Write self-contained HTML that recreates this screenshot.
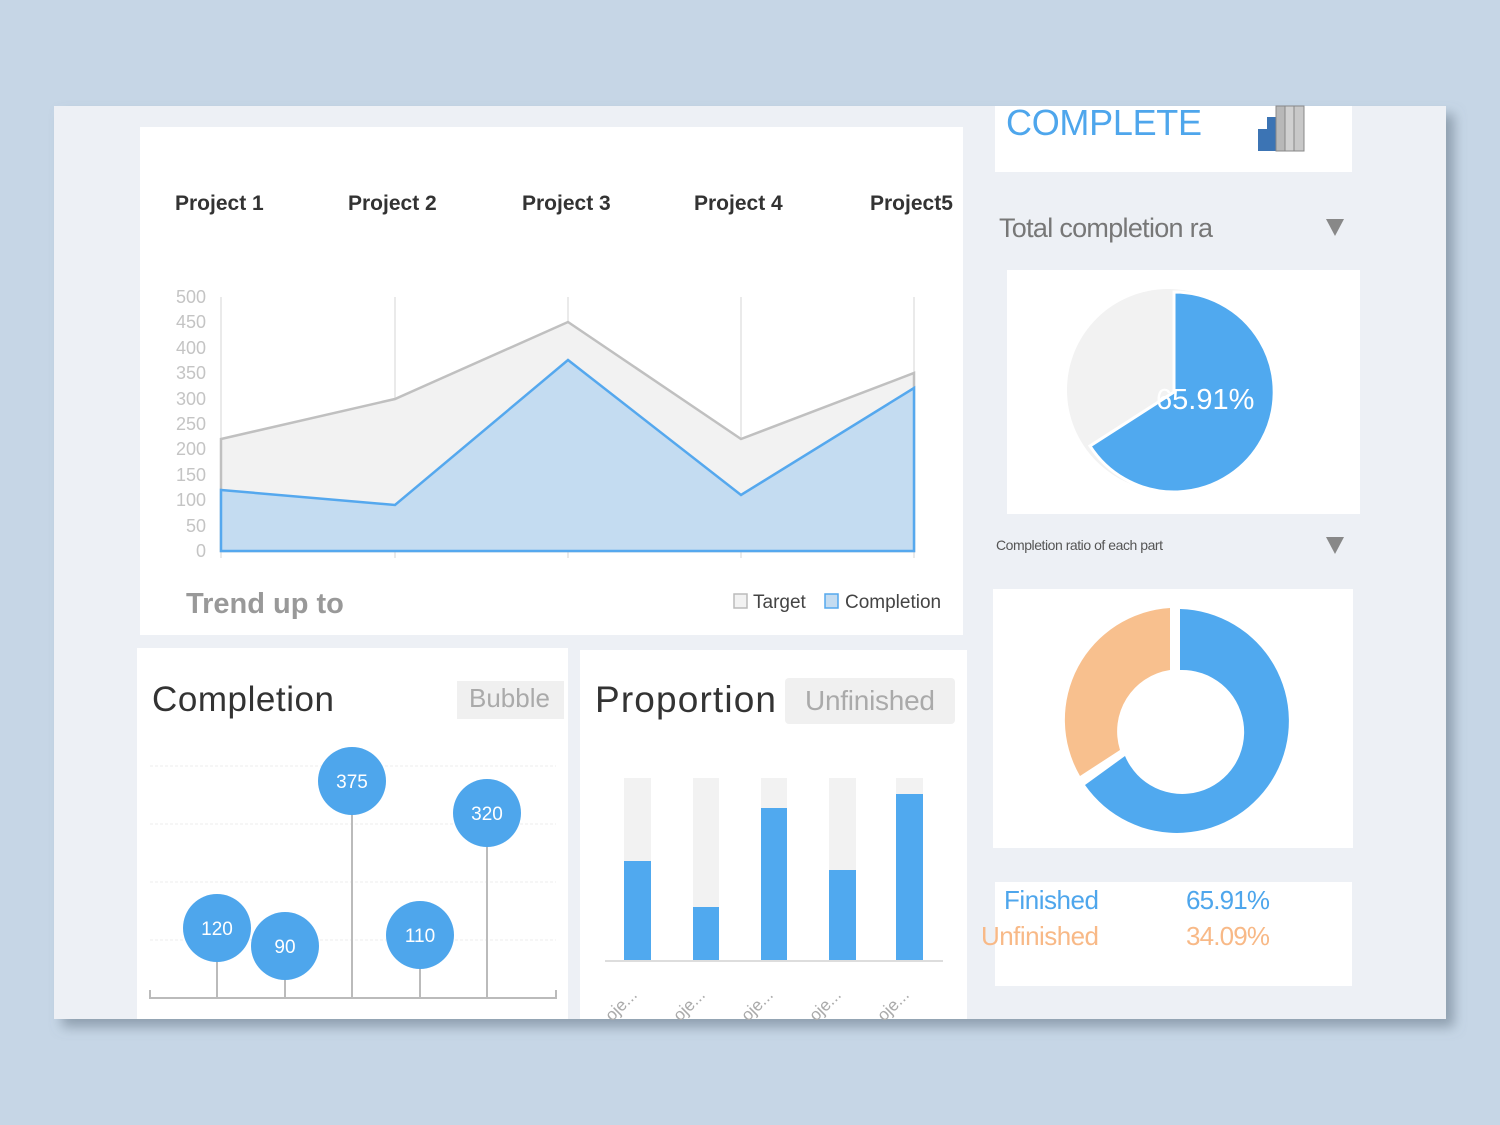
<!DOCTYPE html>
<html><head><meta charset="utf-8"><style>
html,body{margin:0;padding:0;background:#c6d6e6;}
svg{display:block;font-family:"Liberation Sans",sans-serif;}
</style></head><body>
<svg width="1500" height="1125" viewBox="0 0 1500 1125" xmlns="http://www.w3.org/2000/svg">
<defs><filter id="sh" x="-5%" y="-5%" width="115%" height="115%"><feDropShadow dx="8" dy="8" stdDeviation="6" flood-color="#6a7a8a" flood-opacity="0.6"/></filter></defs>
<rect width="1500" height="1125" fill="#c6d6e6"/>
<rect x="54" y="106" width="1392" height="913" fill="#edf0f5" filter="url(#sh)"/>
<rect x="140" y="127" width="823" height="508" fill="#fff"/>
<g font-weight="bold" font-size="21" fill="#333">
<text x="175" y="210">Project 1</text><text x="348" y="210">Project 2</text><text x="522" y="210">Project 3</text><text x="694" y="210">Project 4</text><text x="870" y="210">Project5</text>
</g>
<g font-size="18" fill="#c4c4c4" text-anchor="end">
<text x="206" y="303">500</text><text x="206" y="328">450</text><text x="206" y="354">400</text><text x="206" y="379">350</text><text x="206" y="405">300</text><text x="206" y="430">250</text><text x="206" y="455">200</text><text x="206" y="481">150</text><text x="206" y="506">100</text><text x="206" y="532">50</text><text x="206" y="557">0</text>
</g>
<g stroke="#e4e4e4" stroke-width="1.5">
<line x1="221" y1="297" x2="221" y2="558"/><line x1="395" y1="297" x2="395" y2="558"/><line x1="568" y1="297" x2="568" y2="558"/><line x1="741" y1="297" x2="741" y2="558"/><line x1="914" y1="297" x2="914" y2="558"/>
</g>
<polygon points="221,551 221,439 395,399 568,322 741,439 914,373 914,551" fill="#f2f2f2" stroke="#c0c0c0" stroke-width="2.5"/>
<polygon points="221,551 221,490 395,505 568,360 741,495 914,388 914,551" fill="#c4dcf1" stroke="#55a8ee" stroke-width="2.5"/>
<text x="186" y="613" font-size="29" font-weight="bold" fill="#999">Trend up to</text>
<rect x="734" y="594" width="13" height="14" fill="#f2f2f2" stroke="#bbb" stroke-width="1.5"/>
<text x="753" y="608" font-size="19" fill="#444">Target</text>
<rect x="825" y="594" width="13" height="14" fill="#c4dcf1" stroke="#55a8ee" stroke-width="1.5"/>
<text x="845" y="608" font-size="19" fill="#444">Completion</text>
<rect x="137" y="648" width="431" height="371" fill="#fff"/>
<text x="152" y="711" font-size="35" fill="#333" textLength="182">Completion</text>
<rect x="457" y="681" width="107" height="38" fill="#f0f0f0"/>
<text x="469" y="707" font-size="26" fill="#aaa">Bubble</text>
<g stroke="#eee" stroke-dasharray="3,2"><line x1="150" y1="766" x2="556" y2="766"/><line x1="150" y1="824" x2="556" y2="824"/><line x1="150" y1="882" x2="556" y2="882"/><line x1="150" y1="940" x2="556" y2="940"/></g>
<g stroke="#bbb" stroke-width="2" fill="none">
<polyline points="150,990 150,998 556,998 556,990"/>
<line x1="217" y1="928" x2="217" y2="998"/><line x1="285" y1="946" x2="285" y2="998"/><line x1="352" y1="781" x2="352" y2="998"/><line x1="420" y1="935" x2="420" y2="998"/><line x1="487" y1="813" x2="487" y2="998"/>
</g>
<g fill="#4ea6ec"><circle cx="217" cy="928" r="34"/><circle cx="285" cy="946" r="34"/><circle cx="352" cy="781" r="34"/><circle cx="420" cy="935" r="34"/><circle cx="487" cy="813" r="34"/></g>
<g font-size="19" fill="#fff" text-anchor="middle"><text x="217" y="935">120</text><text x="285" y="953">90</text><text x="352" y="788">375</text><text x="420" y="942">110</text><text x="487" y="820">320</text></g>
<rect x="580" y="650" width="387" height="369" fill="#fff"/>
<text x="595" y="712" font-size="37" fill="#333" textLength="181">Proportion</text>
<rect x="785" y="678" width="170" height="46" rx="4" fill="#f0f0f0"/>
<text x="805" y="710" font-size="28" fill="#aaa" textLength="130">Unfinished</text>
<g fill="#f2f2f2"><rect x="624" y="778" width="27" height="182"/><rect x="693" y="778" width="26" height="182"/><rect x="761" y="778" width="26" height="182"/><rect x="829" y="778" width="27" height="182"/><rect x="896" y="778" width="27" height="182"/></g>
<g fill="#50a9ef"><rect x="624" y="861" width="27" height="99"/><rect x="693" y="907" width="26" height="53"/><rect x="761" y="808" width="26" height="152"/><rect x="829" y="870" width="27" height="90"/><rect x="896" y="794" width="27" height="166"/></g>
<line x1="605" y1="961" x2="943" y2="961" stroke="#ddd" stroke-width="2"/>
<g font-size="17" fill="#aaa">
<text transform="translate(612,1022) rotate(-45)">oje...</text><text transform="translate(680,1022) rotate(-45)">oje...</text><text transform="translate(748,1022) rotate(-45)">oje...</text><text transform="translate(816,1022) rotate(-45)">oje...</text><text transform="translate(884,1022) rotate(-45)">oje...</text>
</g>
<rect x="995" y="106" width="357" height="66" fill="#fff"/>
<text x="1006" y="135" font-size="36" fill="#4ea6ec" textLength="196">COMPLETE</text>
<rect x="1258" y="129" width="9" height="22" fill="#3c74b4"/>
<rect x="1267" y="117" width="9" height="34" fill="#3c74b4"/>
<rect x="1276" y="106" width="9" height="45" fill="#b8b8b8" stroke="#888" stroke-width="1"/>
<rect x="1285" y="106" width="9" height="45" fill="#d0d0d0" stroke="#888" stroke-width="1"/>
<rect x="1294" y="106" width="10" height="45" fill="#c8c8c8" stroke="#888" stroke-width="1"/>
<text x="999" y="237" font-size="27" fill="#777" textLength="214">Total completion ra</text>
<polygon points="1326,219 1344,219 1335,236" fill="#888"/>
<rect x="1007" y="270" width="353" height="244" fill="#fff"/>
<circle cx="1168" cy="390" r="101" fill="#f2f2f2"/>
<path d="M1174,392 L1174,292 A100,100 0 1 1 1090,446 Z" fill="#50a9ef" stroke="#fff" stroke-width="3"/>
<text x="1156" y="409" font-size="29" fill="#fff">65.91%</text>
<text x="996" y="550" font-size="14" fill="#555" textLength="167">Completion ratio of each part</text>
<polygon points="1326,537 1344,537 1335,554" fill="#888"/>
<rect x="993" y="589" width="360" height="259" fill="#fff"/>
<path d="M1180,609 A112,112 0 1 1 1085,785 L1125,756 A62,62 0 1 0 1180,670 Z" fill="#50a9ef"/>
<path d="M1080,776 A112,112 0 0 1 1170,608 L1170,670 A62,62 0 0 0 1120,750 Z" fill="#f8c08e"/>
<rect x="995" y="882" width="357" height="104" fill="#fff"/>
<text x="1004" y="909" font-size="26" fill="#4ea6ec" textLength="95">Finished</text>
<text x="1186" y="909" font-size="26" fill="#4ea6ec" textLength="84">65.91%</text>
<text x="981" y="945" font-size="26" fill="#f8b987" textLength="118">Unfinished</text>
<text x="1186" y="945" font-size="26" fill="#f8b987" textLength="84">34.09%</text>
</svg>
</body></html>
